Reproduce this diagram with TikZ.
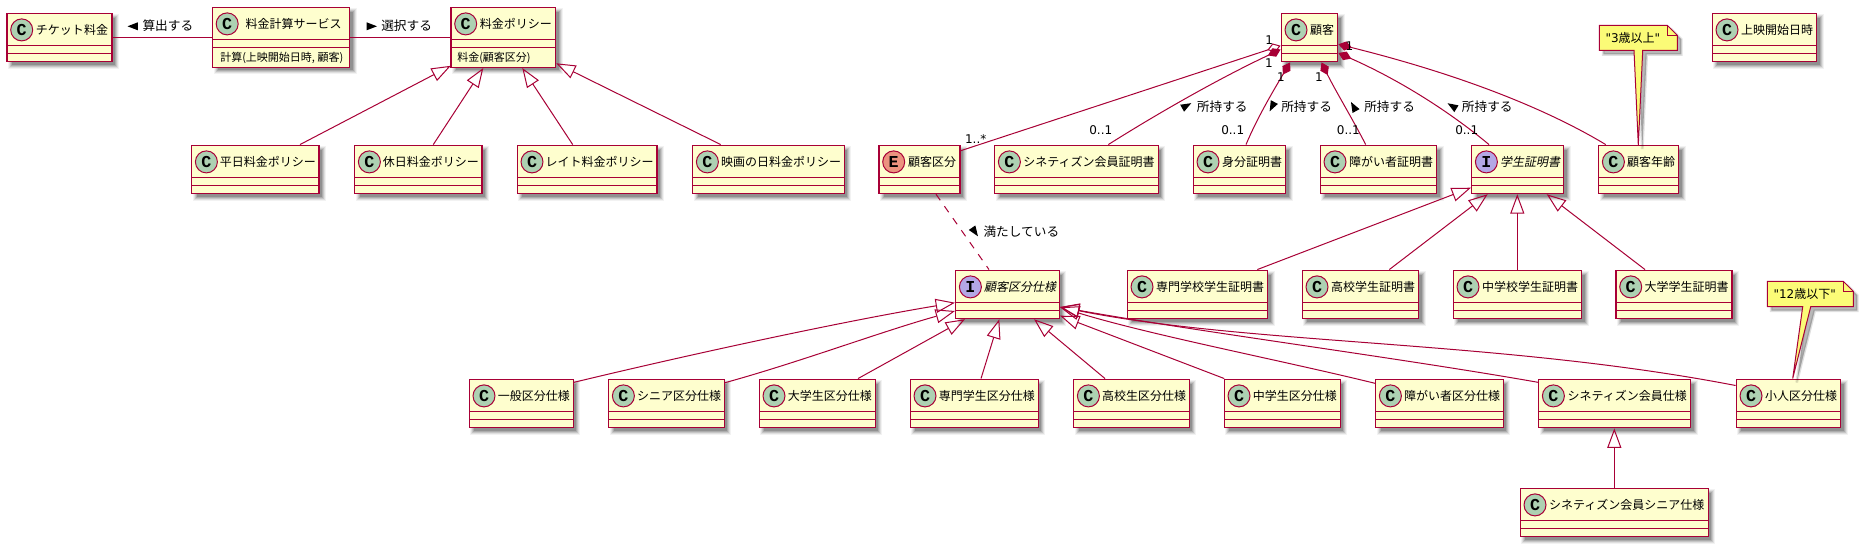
\documentclass[tikz,border=0pt]{standalone}
\usepackage{fontspec}
\setmainfont{Noto Sans CJK JP}
\newfontfamily\jpit[FakeSlant=0.2]{Noto Sans CJK JP}
\newfontfamily\lat{DejaVu Sans}
\newfontfamily\mono{Liberation Mono}[BoldFont={Liberation Mono Bold}]
\usetikzlibrary{arrows.meta,calc}
\definecolor{pu}{HTML}{A80036}
\definecolor{cbg}{HTML}{FEFECE}
\definecolor{notebg}{HTML}{FBFB77}
\definecolor{cC}{HTML}{ADD1B2}
\definecolor{cI}{HTML}{B4A7E5}
\definecolor{cE}{HTML}{EB937F}
\tikzset{
  clsbox/.style={draw=pu,fill=cbg,line width=1.1pt,inner sep=0pt,rectangle},
  clstext/.style={font=\fontsize{9pt}{10pt}\selectfont,inner sep=0pt,text height=7.9pt,text depth=1.1pt,text=black},
  methtext/.style={font=\fontsize{8.25pt}{10pt}\selectfont,inner sep=0pt,text height=7.3pt,text depth=1pt,anchor=west,text=black},
  badge/.style={circle,draw=pu,line width=.75pt,inner sep=0pt,minimum size=16.5pt,font=\mono\bfseries\fontsize{12.5pt}{13pt}\selectfont,text=black},
  lbl/.style={font=\fontsize{9.5pt}{11pt}\selectfont,inner sep=0pt,text height=8.2pt,text depth=1.2pt,anchor=west,text=black},
  mult/.style={font=\lat\fontsize{9pt}{10pt}\selectfont,inner sep=0pt,text=black},
  notetext/.style={font=\fontsize{9pt}{10pt}\selectfont,inner sep=0pt,text height=7.9pt,text depth=1.1pt,anchor=west,text=black},
  link/.style={draw=pu,line width=.75pt},
  gen/.style={link,-{Triangle[open,length=14.5pt,width=10.5pt]}},
  comp/.style={link,{Diamond[length=10.5pt,width=7pt,fill=pu]}-},
  aggr/.style={link,{Diamond[open,length=10.5pt,width=7pt,fill=white]}-},
}
% #1 name #2 x1 #3 x2 #4 y1 #5 y2 #6 letter #7 colour #8 text
\newcommand{\cls}[8]{%
  \foreach \d/\o in {3/.05,2/.08,1/.11,0/.13,-1/.16}{\fill[black,opacity=\o] ({#2+4-(\d)},{#4+4-(\d)}) rectangle ({#3+4+\d},{#5+4+\d});}
  \pgfmathsetmacro\clsW{#3-#2}\pgfmathsetmacro\clsH{#5-#4}
  \node[clsbox,minimum width=\clsW*.75pt,minimum height=\clsH*.75pt] (#1) at ({(#2+#3)/2},{(#4+#5)/2}) {};
  \draw[pu,line width=1.1pt] (#2,{#4+32.3}) -- (#3,{#4+32.3}) (#2,{#4+40.3}) -- (#3,{#4+40.3});
  \node[badge,fill=#7] (#1-b) at ({#2+14.7},{#4+16.6}) {#6};
  \node[clstext] (#1-t) at ({(#2+#3)/2+12.5},{#4+16.6}) {#8};
}
% #1 name #2 x1 #3 x2 #4 y1 #5 y2 #6 tail left #7 tail right #8 tip #9 text
\newcommand{\notebox}[9]{%
  \begin{scope}[shift={(4,4)}]
    \path[fill=black,fill opacity=.28,draw=black,draw opacity=.12,line width=2pt]
      (#2,#4) -- (#2,#5) -- (#6,#5) -- (#8) -- (#7,#5) -- (#3,#5) -- (#3,{#4+10}) -- ({#3-10},#4) -- cycle;
  \end{scope}
  \draw[pu,fill=notebg,line width=.75pt]
      (#2,#4) -- (#2,#5) -- (#6,#5) -- (#8) -- (#7,#5) -- (#3,#5) -- (#3,{#4+10}) -- ({#3-10},#4) -- cycle;
  \draw[pu,line width=.75pt] ({#3-10},#4) -- ({#3-10},{#4+10}) -- (#3,{#4+10});
  \node[notetext] (#1) at ({#2+6},{(#4+#5)/2}) {#9};
}
% small direction triangle: #1 x #2 y #3 rotation
\newcommand{\dirtri}[3]{\fill[black,shift={(#1,#2)},rotate=#3] (5.2,0) -- (-5.2,-4) -- (-5.2,4) -- cycle;}
\begin{document}
\begin{tikzpicture}[x=.75pt,y=-.75pt]
\useasboundingbox (0,0) rectangle (1859,549);
\fill[white] (0,0) rectangle (1859,549);

% top row
\cls{ticket}{7}{112}{13.3}{61.7}{C}{cC}{チケット料金}
\cls{calc}{212.5}{349.5}{7.3}{67.3}{C}{cC}{料金計算サービス}
\cls{policy}{451}{555.5}{7.3}{67.3}{C}{cC}{料金ポリシー}
\node[methtext] (calcm) at (220,57.3) {計算(上映開始日時, 顧客)};
\node[methtext] (policym) at (457,57.3) {料金(顧客区分)};
\cls{customer}{1281.3}{1337.7}{13.3}{61.7}{C}{cC}{顧客}
\cls{startdt}{1712.3}{1816.7}{13.3}{61.7}{C}{cC}{上映開始日時}

% second row
\cls{hei}{191.7}{319}{145.3}{193.5}{C}{cC}{平日料金ポリシー}
\cls{kyu}{354.7}{482}{145.3}{193.5}{C}{cC}{休日料金ポリシー}
\cls{late}{517.3}{657}{145.3}{193.5}{C}{cC}{レイト料金ポリシー}
\cls{eiga}{692.7}{844.3}{145.3}{193.5}{C}{cC}{映画の日料金ポリシー}
\cls{kubun}{879}{960}{145.3}{193.5}{E}{cE}{顧客区分}
\cls{cine}{994.7}{1158.3}{145.3}{193.5}{C}{cC}{シネティズン会員証明書}
\cls{mibun}{1193.3}{1285.7}{145.3}{193.5}{C}{cC}{身分証明書}
\cls{shogai}{1320.3}{1436.7}{145.3}{193.5}{C}{cC}{障がい者証明書}
\cls{gakusei}{1471.7}{1563.7}{145.3}{193.5}{I}{cI}{\jpit 学生証明書}
\cls{age}{1598.7}{1678.7}{145.3}{193.5}{C}{cC}{顧客年齢}

% third row
\cls{senmonS}{1127.3}{1267.7}{270.3}{318.5}{C}{cC}{専門学校学生証明書}
\cls{kokoS}{1302.3}{1418.7}{270.3}{318.5}{C}{cC}{高校学生証明書}
\cls{chuS}{1453.3}{1581.7}{270.3}{318.5}{C}{cC}{中学校学生証明書}
\cls{daiS}{1616}{1732}{270.3}{318.5}{C}{cC}{大学学生証明書}
\cls{spec}{955.7}{1059.3}{270.3}{318.5}{I}{cI}{\jpit 顧客区分仕様}

% fourth row
\cls{ippan}{469.3}{573.3}{379.3}{427.7}{C}{cC}{一般区分仕様}
\cls{senior}{608.7}{724.3}{379.3}{427.7}{C}{cC}{シニア区分仕様}
\cls{daigaku}{759.3}{875.3}{379.3}{427.7}{C}{cC}{大学生区分仕様}
\cls{senmon}{910.3}{1038.3}{379.3}{427.7}{C}{cC}{専門学生区分仕様}
\cls{koko}{1073.7}{1189.3}{379.3}{427.7}{C}{cC}{高校生区分仕様}
\cls{chu}{1224.3}{1340.3}{379.3}{427.7}{C}{cC}{中学生区分仕様}
\cls{shogaiK}{1375.7}{1503.3}{379.3}{427.7}{C}{cC}{障がい者区分仕様}
\cls{cinespec}{1538.7}{1690.7}{379.3}{427.7}{C}{cC}{シネティズン会員仕様}
\cls{kodomo}{1736.3}{1840.7}{379.3}{427.7}{C}{cC}{小人区分仕様}
\cls{cinesenior}{1520.3}{1708.3}{488.3}{536.5}{C}{cC}{シネティズン会員シニア仕様}

% notes
\notebox{note3}{1599.3}{1677.3}{25.3}{50.5}{1634}{1642.7}{1638.3,145}{{\lat "3}歳以上{\lat "}}
\notebox{note12}{1767.3}{1853.3}{281.3}{306.7}{1802.7}{1810.7}{1792.7,378.5}{{\lat "12}歳以下{\lat "}}

% plain associations
\draw[link] (ticket.east |- 0,37.5) -- (calc.west |- 0,37.5);
\draw[link] (calc.east |- 0,37.5) -- (policy.west |- 0,37.5);

% policy generalisations
\draw[gen] (hei.north -| 300,0) -- (450.8,65.8);
\draw[gen] (kyu.north -| 433.3,0) -- (policy.south -| 483.3,0);
\draw[gen] (late.north -| 572.7,0) -- (policy.south -| 522.3,0);
\draw[gen] (eiga.north -| 720.7,0) -- (policy.east |- 0,63.3);

% customer compositions
\draw[aggr] (customer.west |- 0,45.7) -- (kubun.east |- 0,150.7);
\draw[comp] (customer.west |- 0,49.5) .. controls (1220,78) and (1160,112) .. (cine.north -| 1108.3,0);
\draw[comp] (customer.south -| 1290,0) .. controls (1275,88) and (1258,116) .. (mibun.north -| 1246,0);
\draw[comp] (customer.south -| 1321.5,0) .. controls (1335,90) and (1352,118) .. (shogai.north -| 1365.7,0);
\draw[comp] (customer.east |- 0,53) .. controls (1395,78) and (1445,108) .. (gakusei.north -| 1489,0);
\draw[comp] (customer.east |- 0,44.3) .. controls (1450,72) and (1540,105) .. (age.north -| 1605.7,0);

% student-certificate generalisations
\draw[gen] (senmonS.north -| 1257.3,0) -- (gakusei.west |- 0,187.7);
\draw[gen] (kokoS.north -| 1389.3,0) -- (gakusei.south -| 1487.7,0);
\draw[gen] (chuS.north -| 1517.3,0) -- (gakusei.south -| 1517.3,0);
\draw[gen] (daiS.north -| 1645,0) -- (gakusei.south -| 1546.7,0);

% satisfied-by
\draw[link,dash pattern=on 5.5pt off 5.5pt] (kubun.south -| 936,0) -- (spec.north -| 989,0);

% spec generalisations
\draw[gen] (ippan.east |- 0,382.3) .. controls (700,352) and (850,320) .. (spec.west |- 0,302.7);
\draw[gen] (senior.east |- 0,382.7) .. controls (800,362) and (880,332) .. (spec.west |- 0,311);
\draw[gen] (daigaku.north -| 858,0) -- (spec.south -| 965,0);
\draw[gen] (senmon.north -| 981,0) -- (spec.south -| 999.3,0);
\draw[gen] (koko.north -| 1105,0) -- (spec.south -| 1034,0);
\draw[gen] (chu.north -| 1224.3,0) -- (spec.east |- 0,315.7);
\draw[gen] (shogaiK.west |- 0,383.3) .. controls (1280,360) and (1150,335) .. (spec.east |- 0,307.3);
\draw[gen] (cinespec.west |- 0,382.3) .. controls (1400,358) and (1200,332) .. (spec.east |- 0,307);
\draw[gen] (kodomo.west |- 0,385.5) .. controls (1500,340) and (1250,345) .. (spec.east |- 0,307);
\draw[gen] (cinesenior.north -| 1614.3,0) -- (cinespec.south -| 1614.3,0);

% association labels
\dirtri{132.7}{26.3}{180}
\node[lbl] (l1) at (142.3,26.3) {算出する};
\dirtri{371.8}{26.3}{0}
\node[lbl] (l2) at (381,26.3) {選択する};
\dirtri{1186.7}{105.7}{29}
\node[lbl] (l3) at (1196.7,106.7) {所持する};
\dirtri{1272}{106.7}{-117}
\node[lbl] (l4) at (1281,106.7) {所持する};
\dirtri{1353.5}{106.5}{119}
\node[lbl] (l5) at (1364,106.7) {所持する};
\dirtri{1452}{106}{148}
\node[lbl] (l6) at (1461.7,106.7) {所持する};
\dirtri{975}{232}{-55.5}
\node[lbl] (l7) at (983.3,231.5) {満たしている};

% multiplicities
\node[mult] (m1) at (1269.3,40) {1};
\node[mult] (m2) at (1269,62.7) {1};
\node[mult] (m3) at (1281,76.7) {1};
\node[mult] (m4) at (1319,76.7) {1};
\node[mult] (m5) at (1349.3,45.7) {1};
\node[mult] (m6) at (975.7,139.3) {1..*};
\node[mult] (m7) at (1100.8,130) {0..1};
\node[mult] (m8) at (1232.7,130) {0..1};
\node[mult] (m9) at (1348.3,130) {0..1};
\node[mult] (m10) at (1466.7,130) {0..1};
\end{tikzpicture}
\end{document}
